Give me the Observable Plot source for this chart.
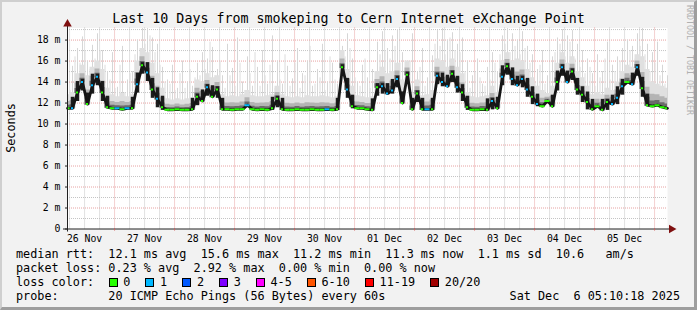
<!DOCTYPE html>
<html>
<head>
<meta charset="utf-8">
<script src="https://cdn.jsdelivr.net/npm/d3@7"></script>
<script src="https://cdn.jsdelivr.net/npm/@observablehq/plot@0.6"></script>
<style>
  html, body { margin: 0; padding: 0; background: #ffffff; }
  #chart { position: relative; width: 697px; height: 310px; background: #f2f2f2; overflow: hidden;
           font-family: "DejaVu Sans Mono", monospace; color: #000; }
  #chart svg { position: absolute; left: 0; top: 0; }
  .abs { position: absolute; white-space: pre; }
  #title { top: 12px; left: 0; width: 697px; text-align: center; font-size: 13.3px; line-height: 14px; }
  #ylab { left: 10.5px; top: 127.5px; transform: translate(-50%, -50%) rotate(-90deg); font-size: 11.8px; line-height: 12px; }
  #credit { left: 688.5px; top: 60px; transform: translate(-50%, -50%) rotate(90deg); font-size: 8.3px; line-height: 9px; color: #b0b0b0; }
  .leg { left: 16px; font-size: 11.8px; line-height: 14px; }
  #l3 { display: flex; align-items: center; }
  .sq { display: inline-block; width: 7px; height: 7px; border: 1px solid #000; margin-right: 5.6px; }
  .it { margin-right: 15.1px; }
  #date { right: 17px; top: 289.3px; font-size: 11.8px; line-height: 14px; }
  #frame { position: absolute; left: 0; top: 0; width: 697px; height: 310px; box-sizing: border-box;
           border-style: solid; border-width: 2px 3px 3px 2px; border-color: #cfcfcf #9e9e9e #9e9e9e #cfcfcf; pointer-events: none; }
</style>
</head>
<body>
<div id="chart"></div>
<script>
// ---- time frame ----
const startTime = new Date(Date.UTC(2025, 10, 26, 5, 10, 18));
const endTime = new Date(Date.UTC(2025, 11, 6, 5, 10, 18));
const stepHours = 2;

// ---- median rtt (ms), one value every 2 hours ----
const median = [
  11.5,11.5,13.0,14.0,11.9,13.7,14.5,13.0,11.6,11.5,
  11.5,11.4,11.5,11.5,13.8,15.6,14.9,13.3,12.4,11.6,
  11.35,11.35,11.4,11.35,11.35,11.4,12.6,12.2,13.5,12.6,
  13.3,11.4,11.4,11.35,11.4,11.4,11.8,11.4,11.35,11.4,
  11.35,11.5,12.4,11.4,11.35,11.35,11.4,11.35,11.35,11.4,
  11.35,11.35,11.4,11.35,11.4,15.4,13.3,11.7,11.5,11.5,
  11.4,11.35,13.5,13.6,12.9,13.2,14.3,12.0,14.7,11.4,
  12.9,11.4,11.4,11.4,14.6,14.0,13.6,14.8,13.5,13.0,
  11.6,11.35,11.35,11.4,11.35,12.2,11.5,14.5,15.5,14.3,
  13.7,14.3,13.3,12.6,11.9,11.7,12.2,11.7,14.0,15.4,
  14.0,15.0,13.3,12.8,12.1,11.4,11.7,11.35,12.1,11.9,
  12.5,13.6,14.0,13.8,15.4,13.4,11.8,11.7,11.8,11.6,
  11.5
];
// ---- lost pings per step (index into loss colours) ----
const lossCode = [
  0,1,0,1,0,1,1,0,0,0,
  1,0,1,0,1,0,1,0,1,0,
  0,0,0,0,0,0,0,0,1,0,
  0,0,0,0,0,0,1,0,0,0,
  0,0,0,0,0,0,0,0,0,0,
  0,0,1,0,0,0,1,0,0,0,
  0,0,0,1,1,1,1,0,0,0,
  0,0,1,0,1,1,1,0,1,0,
  0,0,0,0,0,1,0,1,0,1,
  1,1,1,0,1,0,0,0,0,1,
  1,0,0,0,0,0,0,0,0,1,
  1,1,0,1,1,0,0,0,0,0,
  0
];
// ---- upper edge of the dense smoke (ms) ----
const smokeTop = [
  12.8,13.0,14.8,15.6,14.6,15.4,16.0,15.2,13.4,12.8,
  12.6,12.9,12.6,12.8,16.0,17.2,16.8,15.8,14.8,13.4,
  12.4,12.3,12.4,12.3,12.4,12.5,14.2,14.0,14.8,14.4,
  14.6,12.8,12.6,12.7,12.6,12.8,13.2,12.7,12.6,12.6,
  12.7,12.8,13.6,12.8,12.6,12.5,12.6,12.5,12.7,12.6,
  12.6,12.7,12.6,12.5,12.6,17.0,15.2,13.6,12.7,12.6,
  12.5,12.6,15.0,15.4,14.8,15.0,15.8,14.2,16.0,12.9,
  14.2,12.7,12.8,13.2,16.2,16.0,15.4,16.2,15.4,14.8,
  13.0,12.6,12.5,12.6,12.7,13.6,13.0,16.0,16.8,16.0,
  16.2,16.0,15.2,14.4,13.6,13.2,12.9,13.6,15.8,16.8,
  15.8,16.4,15.0,14.4,13.6,12.8,13.0,12.8,13.4,13.2,
  14.0,15.0,15.6,15.4,16.6,16.4,15.2,14.0,13.8,13.6,
  13.4
];
// ---- slowest ping per step (ms) ----
const maxPing = [
  14.0,15.5,17.2,18.3,16.0,17.5,18.6,17.0,15.0,16.8,
  13.5,17.4,14.2,15.0,18.0,19.1,19.1,18.2,17.6,15.4,
  14.2,15.6,13.4,16.0,14.0,13.6,15.8,16.8,16.2,17.3,
  15.2,14.6,17.6,15.3,18.2,14.0,16.4,13.6,15.4,17.0,
  13.8,18.4,16.0,13.8,15.5,14.3,17.2,14.8,16.0,13.6,
  15.2,17.6,14.0,15.8,13.8,17.4,18.6,16.2,14.0,15.6,
  14.4,15.2,17.8,18.8,17.2,18.4,19.0,16.8,15.4,18.6,
  15.0,17.2,14.4,16.5,18.9,19.1,18.0,18.7,17.6,18.2,
  16.0,14.6,16.2,13.8,15.4,16.8,15.0,18.4,19.1,18.6,
  18.0,18.8,17.4,16.6,15.2,17.0,14.6,16.4,18.2,19.0,
  18.4,18.9,17.6,17.0,16.2,14.8,16.6,15.0,17.8,15.6,
  16.4,17.2,18.0,17.4,18.6,19.1,17.6,16.8,17.8,15.6,
  14.6
];
// ---- slowest ping between steps (ms) ----
const maxPingMid = [
  13.2,16.4,15.8,17.0,15.2,16.2,17.0,15.6,14.2,13.4,
  15.6,13.0,14.8,16.6,16.4,17.6,18.4,16.8,15.6,14.0,
  13.8,13.2,14.8,13.4,15.2,14.4,14.6,15.2,17.8,14.6,
  16.0,13.4,14.6,13.6,15.8,13.2,14.8,16.8,13.6,14.6,
  15.6,13.4,14.2,16.6,13.6,15.8,13.4,14.6,17.4,13.8,
  14.4,13.2,16.4,14.2,15.6,16.4,17.2,14.4,13.6,16.2,
  13.4,14.0,16.6,17.0,16.2,17.4,15.8,14.4,16.0,14.0,
  15.4,13.6,15.0,17.6,17.4,16.6,18.2,17.0,16.8,15.0,
  13.4,15.0,14.4,13.6,14.2,15.8,16.6,17.6,16.8,17.4,
  16.6,17.2,15.8,14.0,15.6,13.8,15.0,16.8,17.6,16.4,
  17.8,16.2,15.4,14.8,15.4,13.6,14.4,16.2,14.2,15.0,
  16.0,15.6,17.0,16.2,17.4,16.6,15.0,15.8,14.6,13.8
];

// ---- axes ----
const yTop = 19.15;
const yTicks = [0, 2, 4, 6, 8, 10, 12, 14, 16, 18];
const yTickLabels = ["0", "2 m", "4 m", "6 m", "8 m", "10 m", "12 m", "14 m", "16 m", "18 m"];
const dayLabels = ["26 Nov", "27 Nov", "28 Nov", "29 Nov", "30 Nov", "01 Dec", "02 Dec", "03 Dec", "04 Dec", "05 Dec"];

// ---- legend texts ----
const titleText = "Last 10 Days from smokeping to Cern Internet eXchange Point";
const rttStats = ["12.1 ms avg", "15.6 ms max", "11.2 ms min", "11.3 ms now", "1.1 ms sd", "10.6   am/s"];
const lossStats = ["0.23 % avg", "2.92 % max", "0.00 % min", "0.00 % now"];
const lossLabels = ["0", "1", "2", "3", "4-5", "6-10", "11-19", "20/20"];
const lossColors = ["#26ff00", "#00b8ff", "#0059ff", "#7e00ff", "#ff00ff", "#ff5500", "#ff0000", "#a10000"];
const probeText = "20 ICMP Echo Pings (56 Bytes) every 60s";
const dateText = "Sat Dec  6 05:10:18 2025";

// ---- build tables ----
const stepMs = stepHours * 3600e3;
const hourMs = 3600e3;
const rows = median.map((m, i) => {
  const prev = i > 0 ? median[i - 1] : m;
  const next = i < median.length - 1 ? median[i + 1] : m;
  const busy = Math.max(Math.abs(m - prev), Math.abs(next - m)) > 0.5;
  const t = new Date(+startTime + i * stepMs);
  const hw = busy ? 0.4 : 1.0;
  const lo = Math.min(prev, m, next), hi = Math.max(prev, m, next);
  return {
    t, m, busy, loss: lossCode[i], top: smokeTop[i], max: maxPing[i],
    b1: Math.max(lo, m - 0.8) - 0.05,
    b2: Math.min(hi, m + 0.8) + 0.25,
    x1: new Date(+t - hw * hourMs), x2: new Date(+t + hw * hourMs)
  };
});
const busyRows = rows.filter(d => d.busy);
const rowsMid = maxPingMid.map((s, i) => ({
  t: new Date(+startTime + (i + 0.5) * stepMs),
  lo: Math.min(median[i], median[i + 1]),
  max: s
}));

const midnights = d3.utcDay.range(startTime, endTime);
const sixHours = d3.utcHour.every(6).range(startTime, endTime).filter(d => d.getUTCHours() !== 0);
const noons = d3.utcHour.every(12).range(startTime, endTime).filter(d => d.getUTCHours() === 12);
const minorY = d3.range(1, 20, 2);
const majorY = yTicks.filter(v => v > 0);

const gridGray = "#c4c4c4";
const gridRed = "#e7a2a2";

const plot = Plot.plot({
  width: 697,
  height: 250,
  marginLeft: 67,
  marginRight: 30,
  marginTop: 27.5,
  marginBottom: 21.5,
  style: { fontFamily: "DejaVu Sans Mono, monospace", fontSize: "9.8px", background: "transparent", color: "#000", overflow: "visible" },
  x: { type: "utc", domain: [startTime, endTime] },
  y: { domain: [0, yTop] },
  marks: [
    Plot.frame({ fill: "#ffffff", stroke: "none" }),
    // grid
    Plot.ruleX(sixHours, { stroke: gridGray, strokeDasharray: "1,1" }),
    Plot.ruleY(minorY, { stroke: gridGray, strokeDasharray: "1,1" }),
    Plot.ruleX(midnights, { stroke: gridRed, strokeDasharray: "1,1" }),
    Plot.ruleY(majorY, { stroke: gridRed, strokeDasharray: "1,1" }),
    // smoke: outliers
    Plot.ruleX(rows, { x: "t", y1: "m", y2: "max", stroke: "#d6d6d6", strokeWidth: 1 }),
    Plot.ruleX(rowsMid, { x: "t", y1: "lo", y2: "max", stroke: "#dcdcdc", strokeWidth: 1 }),
    // smoke: dense part
    Plot.areaY(rows, { x: "t", y1: d => d.m - 0.1, y2: "top", fill: "#e0e0e0", curve: "step" }),
    Plot.areaY(rows, { x: "t", y1: d => d.m - 0.1, y2: d => d.m + (d.top - d.m) * 0.5, fill: "#b4b4b4", curve: "step" }),
    Plot.areaY(rows, { x: "t", y1: d => d.m - 0.1, y2: d => d.m + (d.top - d.m) * 0.22, fill: "#6a6a6a", curve: "step" }),
    Plot.ruleX(busyRows, { x: "t", y1: "b1", y2: "b2", stroke: "#1c1c1c", strokeWidth: 3.5 }),
    Plot.line(rows, { x: "t", y: "m", stroke: "#151515", strokeWidth: 2.8 }),
    // median coloured by loss
    Plot.ruleY(rows, { y: "m", x1: "x1", x2: "x2", stroke: d => lossColors[d.loss], strokeWidth: 2, clip: true }),
    // axes lines & arrows
    Plot.ruleX([startTime], { stroke: "#202020", insetTop: -5, insetBottom: -3 }),
    Plot.ruleY([0], { stroke: "#202020", insetLeft: -4, insetRight: -3 }),
    Plot.dot([startTime], { x: d => d, y: () => yTop, symbol: "triangle", r: 3.2, fill: "#7f1010", stroke: "none", dy: -4 }),
    Plot.dot([endTime], { x: d => d, y: () => 0, symbol: "triangle", r: 3.2, fill: "#7f1010", stroke: "none", rotate: 90, dx: 4 }),
    // tick labels
    Plot.axisY(yTicks, { tickFormat: (d, i) => yTickLabels[i], tickSize: 2, tickPadding: 5, stroke: "#202020", fill: "#000", label: null }),
    Plot.axisX(midnights, { tickSize: 2, tickFormat: () => "", stroke: "#d65f5f", label: null }),
    Plot.axisX(noons, { tickSize: 0, tickPadding: 6, tickFormat: (d, i) => dayLabels[i], fill: "#000", label: null })
  ]
});

const chart = document.getElementById("chart");
chart.appendChild(plot);

function addDiv(id, cls, html) {
  const el = document.createElement("div");
  if (id) el.id = id;
  el.className = "abs" + (cls ? " " + cls : "");
  el.innerHTML = html;
  chart.appendChild(el);
  return el;
}
addDiv("title", "", titleText);
addDiv("ylab", "", "Seconds");
addDiv("credit", "", "RRDTOOL / TOBI OETIKER");
addDiv("l1", "leg", "median rtt:  " + rttStats.join("  ")).style.top = "247.3px";
addDiv("l2", "leg", "packet loss: " + lossStats.join("  ")).style.top = "261.3px";
const l3 = addDiv("l3", "leg", "");
l3.style.top = "275.3px";
const head = document.createElement("span");
head.textContent = "loss color:";
head.style.display = "inline-block";
head.style.width = "92.7px";
l3.appendChild(head);
lossLabels.forEach((lab, i) => {
  const sq = document.createElement("span");
  sq.className = "sq";
  sq.style.background = lossColors[i];
  l3.appendChild(sq);
  const tx = document.createElement("span");
  tx.className = "it";
  tx.textContent = lab;
  l3.appendChild(tx);
});
addDiv("l4", "leg", "probe:       " + probeText).style.top = "289.3px";
addDiv("date", "", dateText);
const frame = document.createElement("div");
frame.id = "frame";
chart.appendChild(frame);
</script>
</body>
</html>
